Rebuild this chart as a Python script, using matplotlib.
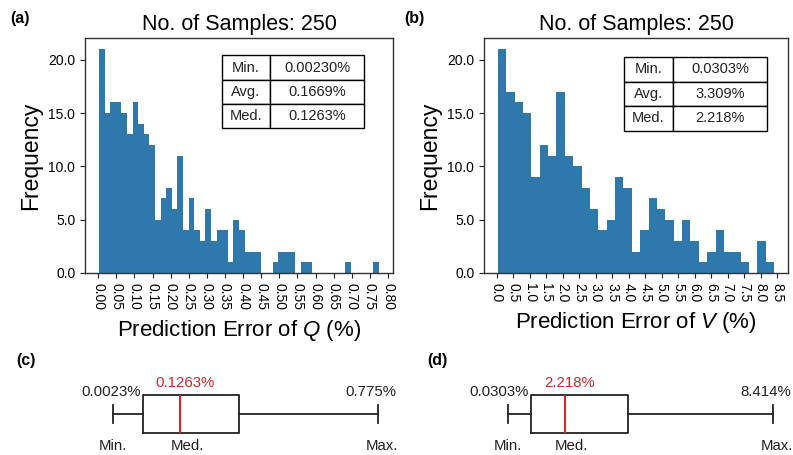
import numpy as np
import matplotlib
matplotlib.use("Agg")
import matplotlib.pyplot as plt

plt.rcParams['font.family'] = ['Liberation Sans', 'DejaVu Sans']
plt.rcParams['mathtext.fontset'] = 'custom'
plt.rcParams['mathtext.rm'] = 'Liberation Sans'
plt.rcParams['mathtext.it'] = 'Liberation Sans:italic'

# ---------------- data ----------------
n_samples = 250

# (a) Q prediction error histogram (50 bins between min and max)
q_min, q_max = 0.0023, 0.775
q_counts = [21, 15, 16, 16, 15, 13, 16, 14, 13, 12,
            5, 7, 8, 6, 11, 4, 7, 4, 3, 6,
            3, 4, 4, 1, 5, 4, 2, 2, 2, 0,
            0, 1, 2, 2, 2, 0, 1, 1, 0, 0,
            0, 0, 0, 0, 1, 0, 0, 0, 0, 1]
q_ticks = [0.00, 0.05, 0.10, 0.15, 0.20, 0.25, 0.30, 0.35, 0.40,
           0.45, 0.50, 0.55, 0.60, 0.65, 0.70, 0.75, 0.80]
q_stats_names = ["Min.", "Avg.", "Med."]
q_stats_vals = ["0.00230%", "0.1669%", "0.1263%"]

# (b) V prediction error histogram (33 bins between min and max)
v_min, v_max = 0.0303, 8.414
v_counts = [21, 17, 16, 15, 9, 12, 11, 17, 11, 10,
            8, 6, 4, 5, 9, 8, 2, 4, 7, 6,
            5, 3, 5, 3, 1, 2, 4, 2, 2, 1,
            0, 3, 1]
v_ticks = [0.0, 0.5, 1.0, 1.5, 2.0, 2.5, 3.0, 3.5, 4.0, 4.5,
           5.0, 5.5, 6.0, 6.5, 7.0, 7.5, 8.0, 8.5]
v_stats_names = ["Min.", "Avg.", "Med."]
v_stats_vals = ["0.0303%", "3.309%", "2.218%"]

# (c),(d) schematic box plots (positions as drawn: min, q1, med, q3, max)
box_c = [0.0023, 0.0898, 0.1976, 0.3697, 0.775]
box_c_labels = ["0.0023%", "0.1263%", "0.775%"]
box_d = [0.0303, 0.767, 1.834, 3.85, 8.414]
box_d_labels = ["0.0303%", "2.218%", "8.414%"]

# ---------------- styling ----------------
W, H = 793, 455
BAR = '#2e78ab'
RED = '#d9232f'
fig = plt.figure(figsize=(W / 100, H / 100), dpi=100)


def px_axes(l, t, r, b):
    return fig.add_axes([l / W, 1 - b / H, (r - l) / W, (b - t) / H])


def hist_panel(ax, lo, hi, counts, ticks, fmt, names, vals, var, tbl_bbox):
    edges = np.linspace(lo, hi, len(counts) + 1)
    ax.hist(edges[:-1], bins=edges, weights=counts, color=BAR)
    ax.set_xticks(ticks)
    ax.set_xticklabels([fmt % t for t in ticks], rotation=-90, fontsize=10)
    ax.yaxis.set_major_formatter(matplotlib.ticker.FormatStrFormatter('%.1f'))
    ax.set_yticks([0, 5, 10, 15, 20])
    ax.tick_params(axis='y', labelsize=10)
    ax.tick_params(length=3.5, width=0.8, color='#222222')
    for s in ax.spines.values():
        s.set_color('#333333')
        s.set_linewidth(1.0)
    ax.set_title("No. of Samples: %d" % n_samples, fontsize=15.5, pad=6)
    ax.set_ylabel("Frequency", fontsize=16.5)
    ax.set_xlabel(r"Prediction Error of $\mathit{%s}$ (%%)" % var, fontsize=16, labelpad=6)
    tbl = ax.table(cellText=[[n, v] for n, v in zip(names, vals)],
                   cellLoc='center', colWidths=[0.34, 0.66], bbox=tbl_bbox)
    tbl.auto_set_font_size(False)
    tbl.set_fontsize(10.5)
    for cell in tbl.get_celld().values():
        cell.set_edgecolor('black')
        cell.set_linewidth(1.0)
        cell.get_text().set_color('#222222')


ax_a = px_axes(85, 38, 393, 273)
hist_panel(ax_a, q_min, q_max, q_counts, q_ticks, '%.2f',
           q_stats_names, q_stats_vals, 'Q', [0.444, 0.616, 0.463, 0.31])
ax_b = px_axes(484, 38, 788, 273)
hist_panel(ax_b, v_min, v_max, v_counts, v_ticks, '%.1f',
           v_stats_names, v_stats_vals, 'V', [0.4615, 0.606, 0.469, 0.313])


def box_panel(l_px, r_px, stats, labels):
    lo, q1, med, q3, hi = stats
    pad = 0.05 * (hi - lo)
    span_px = (r_px - l_px)
    ax = px_axes(l_px - 0.05 * span_px, 375, r_px + 0.05 * span_px, 453)
    ax.set_xlim(lo - pad, hi + pad)
    ax.set_ylim(-1, 1)
    ax.bxp([dict(whislo=lo, q1=q1, med=med, q3=q3, whishi=hi, fliers=[])],
           positions=[0], widths=0.974, vert=False, showfliers=False,
           boxprops=dict(color='#222222', linewidth=1.3),
           whiskerprops=dict(color='#222222', linewidth=1.3),
           capprops=dict(color='#222222', linewidth=1.3),
           medianprops=dict(color=RED, linewidth=1.5))
    ax.axis('off')
    fs = 10.8
    px2pt = 0.72
    ax.annotate(labels[0], (q1, 0.46), xytext=(-2 * px2pt, 0), textcoords='offset points',
                ha='right', va='baseline', fontsize=fs, color='#222222')
    ax.annotate(labels[1], (med, 0.70), xytext=(5 * px2pt, 0), textcoords='offset points',
                ha='center', va='baseline', fontsize=fs, color=RED)
    ax.annotate(labels[2], (hi, 0.46), xytext=(-7 * px2pt, 0), textcoords='offset points',
                ha='center', va='baseline', fontsize=fs, color='#222222')
    ax.annotate("Min.", (lo, -0.92), ha='center', va='baseline', fontsize=fs, color='#222222')
    ax.annotate("Med.", (med, -0.92), xytext=(7 * px2pt, 0), textcoords='offset points',
                ha='center', va='baseline', fontsize=fs, color='#222222')
    ax.annotate("Max.", (hi, -0.92), xytext=(4 * px2pt, 0), textcoords='offset points',
                ha='center', va='baseline', fontsize=fs, color='#222222')
    return ax


box_panel(113, 378, box_c, box_c_labels)
box_panel(507.7, 772.7, box_d, box_d_labels)

for lab, x, y in [("(a)", 10, 18), ("(b)", 404, 18), ("(c)", 16, 361), ("(d)", 427, 361)]:
    fig.text(x / W, 1 - y / H, lab, fontsize=11.5, fontweight='bold', va='center', ha='left')

fig.savefig("out.png", dpi=100)
